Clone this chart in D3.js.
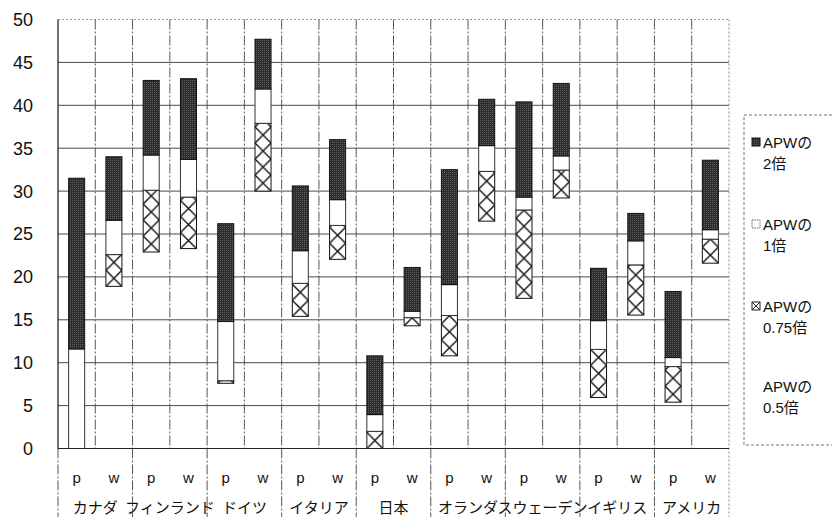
<!DOCTYPE html>
<html>
<head>
<meta charset="utf-8">
<script src="https://cdn.jsdelivr.net/npm/d3@7"></script>
<style>
  html, body { margin: 0; padding: 0; background: #fff; }
  svg { display: block; }
  text { font-family: "Liberation Sans", Arial, "Noto Sans CJK JP", sans-serif; fill: #111; }
  .jp { font-family: "Noto Sans CJK JP", "Liberation Sans", sans-serif; }
</style>
</head>
<body>
<svg id="chart" width="832" height="517"></svg>
<script>
// Countries and the two household types shown for each
const countries = ["カナダ", "フィンランド", "ドイツ", "イタリア", "日本", "オランダ", "スウェーデン", "イギリス", "アメリカ"];
const types = ["p", "w"];

// Cumulative levels per bar (country order, p then w)
const apw05  = [0,    18.9, 22.9, 23.3, 7.6,  30.0, 15.4,  22.05, 0,    14.3,  10.8, 26.5, 17.5, 29.2,  5.95,  15.55, 5.4,  21.6];
const apw075 = [0,    22.6, 30.1, 29.3, 7.9,  37.9, 19.25, 26.0,  2.0,  15.25, 15.5, 32.3, 27.8, 32.45, 11.55, 21.4,  9.55, 24.4];
const apw1   = [11.6, 26.6, 34.2, 33.7, 14.8, 41.9, 23.05, 29.0,  3.95, 16.0,  19.1, 35.3, 29.3, 34.1,  14.9,  24.2,  10.6, 25.5];
const apw2   = [31.5, 34.0, 42.9, 43.1, 26.2, 47.7, 30.6,  36.0,  10.8, 21.1,  32.5, 40.7, 40.4, 42.55, 21.0,  27.4,  18.3, 33.6];

const yTicks = [0, 5, 10, 15, 20, 25, 30, 35, 40, 45, 50];
const legendLabels = [["APWの", "2倍"], ["APWの", "1倍"], ["APWの", "0.75倍"], ["APWの", "0.5倍"]];

const svg = d3.select("#chart");
const W = 832, H = 517;
const plot = { left: 58, right: 729, top: 19.5, bottom: 448.5 };

const slots = [];
countries.forEach((c, ci) => types.forEach((t, ti) => slots.push({ country: c, type: t, i: ci * 2 + ti })));

const x = d3.scaleBand().domain(slots.map(s => s.i)).range([plot.left, plot.right]).padding(0);
const xc = d3.scaleBand().domain(countries).range([plot.left, plot.right]).padding(0);
const y = d3.scaleLinear().domain([0, 50]).range([plot.bottom, plot.top]);
const barW = x.bandwidth() * 0.43;

const defs = svg.append("defs");
// stippled dark fill
const dark = defs.append("pattern").attr("id", "dark").attr("patternUnits", "userSpaceOnUse")
  .attr("width", 2).attr("height", 2);
dark.append("rect").attr("width", 2).attr("height", 2).attr("fill", "#2c2c2c");
dark.append("rect").attr("width", 1).attr("height", 1).attr("fill", "#5e5e5e");

// horizontal gridlines
svg.append("g").selectAll("line").data(yTicks.filter(v => v > 0 && v < 50)).join("line")
  .attr("x1", plot.left).attr("x2", plot.right)
  .attr("y1", d => y(d)).attr("y2", d => y(d))
  .attr("stroke", "#4a4a4a").attr("stroke-width", 1);

// top border
svg.append("line").attr("x1", plot.left).attr("x2", plot.right)
  .attr("y1", y(50)).attr("y2", y(50))
  .attr("stroke", "#999").attr("stroke-width", 1).attr("stroke-dasharray", "2,2");

// vertical gridlines between bars
svg.append("g").selectAll("line").data(slots.slice(1)).join("line")
  .attr("x1", d => x(d.i)).attr("x2", d => x(d.i))
  .attr("y1", plot.top).attr("y2", plot.bottom)
  .attr("stroke", "#555").attr("stroke-width", 1).attr("stroke-dasharray", "10,2,2,2");

// country separators through the label area
svg.append("g").selectAll("line").data(countries).join("line")
  .attr("x1", d => xc(d)).attr("x2", d => xc(d))
  .attr("y1", plot.bottom).attr("y2", H)
  .attr("stroke", "#555").attr("stroke-width", 1).attr("stroke-dasharray", "10,2,2,2");

// right border
svg.append("line").attr("x1", plot.right).attr("x2", plot.right)
  .attr("y1", plot.top).attr("y2", H)
  .attr("stroke", "#888").attr("stroke-width", 1).attr("stroke-dasharray", "2,2");

// bars
const levels = slots.map(s => [apw05[s.i], apw075[s.i], apw1[s.i], apw2[s.i]]);
const kinds = ["hatch", "white", "dark"];
const bars = svg.append("g");
slots.forEach(s => {
  const lv = levels[s.i];
  const bx = x(s.i) + (x.bandwidth() - barW) / 2;
  const pid = "hatch" + s.i;
  const pat = defs.append("pattern").attr("id", pid).attr("patternUnits", "userSpaceOnUse")
    .attr("x", bx).attr("y", y(lv[0])).attr("width", barW).attr("height", barW);
  pat.append("rect").attr("width", barW).attr("height", barW).attr("fill", "#fff");
  pat.append("path").attr("d", `M0,0L${barW},${barW}M${barW},0L0,${barW}`)
    .attr("stroke", "#111").attr("stroke-width", 1.4).attr("fill", "none");
  kinds.forEach((k, ki) => {
    const lo = lv[ki], hi = lv[ki + 1];
    if (hi - lo <= 0) return;
    bars.append("rect")
      .attr("x", bx).attr("width", barW)
      .attr("y", y(hi)).attr("height", y(lo) - y(hi))
      .attr("fill", k === "dark" ? "url(#dark)" : k === "hatch" ? `url(#${pid})` : "#fff")
      .attr("stroke", k === "white" ? "#333" : "#111").attr("stroke-width", 1);
  });
});

// axes lines
svg.append("line").attr("x1", plot.left).attr("x2", plot.right)
  .attr("y1", plot.bottom).attr("y2", plot.bottom).attr("stroke", "#222").attr("stroke-width", 1.2);
svg.append("line").attr("x1", plot.left).attr("x2", plot.left)
  .attr("y1", plot.top).attr("y2", plot.bottom).attr("stroke", "#111").attr("stroke-width", 1.2);

// y tick labels
svg.append("g").selectAll("text").data(yTicks).join("text")
  .attr("x", 33).attr("y", d => y(d)).attr("dy", "0.36em")
  .attr("text-anchor", "end").attr("font-size", 18).text(d => d);

// type labels
svg.append("g").selectAll("text").data(slots).join("text")
  .attr("x", d => x(d.i) + x.bandwidth() / 2).attr("y", 483)
  .attr("text-anchor", "middle").attr("font-size", 15).text(d => d.type);

// country labels
svg.append("g").selectAll("text").data(countries).join("text")
  .attr("class", "jp")
  .attr("x", d => xc(d) + xc.bandwidth() / 2).attr("y", 513)
  .attr("text-anchor", "middle").attr("font-size", 15).text(d => d);

// legend
const lg = svg.append("g");
lg.append("rect").attr("x", 744).attr("y", 115).attr("width", 100).attr("height", 330)
  .attr("fill", "none").attr("stroke", "#777").attr("stroke-width", 1).attr("stroke-dasharray", "3,2");
const legendRows = [148, 230, 312, 392];
const sw = 8;
legendLabels.forEach((lab, k) => {
  const by = legendRows[k];
  const sx = 752, sy = by - 10;
  if (k === 0) {
    lg.append("rect").attr("x", sx).attr("y", sy).attr("width", sw).attr("height", sw)
      .attr("fill", "url(#dark)").attr("stroke", "#111");
  } else if (k === 1) {
    lg.append("rect").attr("x", sx).attr("y", sy).attr("width", sw).attr("height", sw)
      .attr("fill", "#fff").attr("stroke", "#666").attr("stroke-dasharray", "1.5,1");
  } else if (k === 2) {
    lg.append("rect").attr("x", sx).attr("y", sy).attr("width", sw).attr("height", sw)
      .attr("fill", "#fff").attr("stroke", "#222");
    lg.append("path").attr("d", `M${sx},${sy}L${sx + sw},${sy + sw}M${sx + sw},${sy}L${sx},${sy + sw}`)
      .attr("stroke", "#222").attr("stroke-width", 1);
  }
  lg.append("text").attr("x", 763).attr("y", by).attr("font-size", 15).text(lab[0]);
  lg.append("text").attr("x", 763).attr("y", by + 21).attr("font-size", 15).text(lab[1]);
});
</script>
</body>
</html>
